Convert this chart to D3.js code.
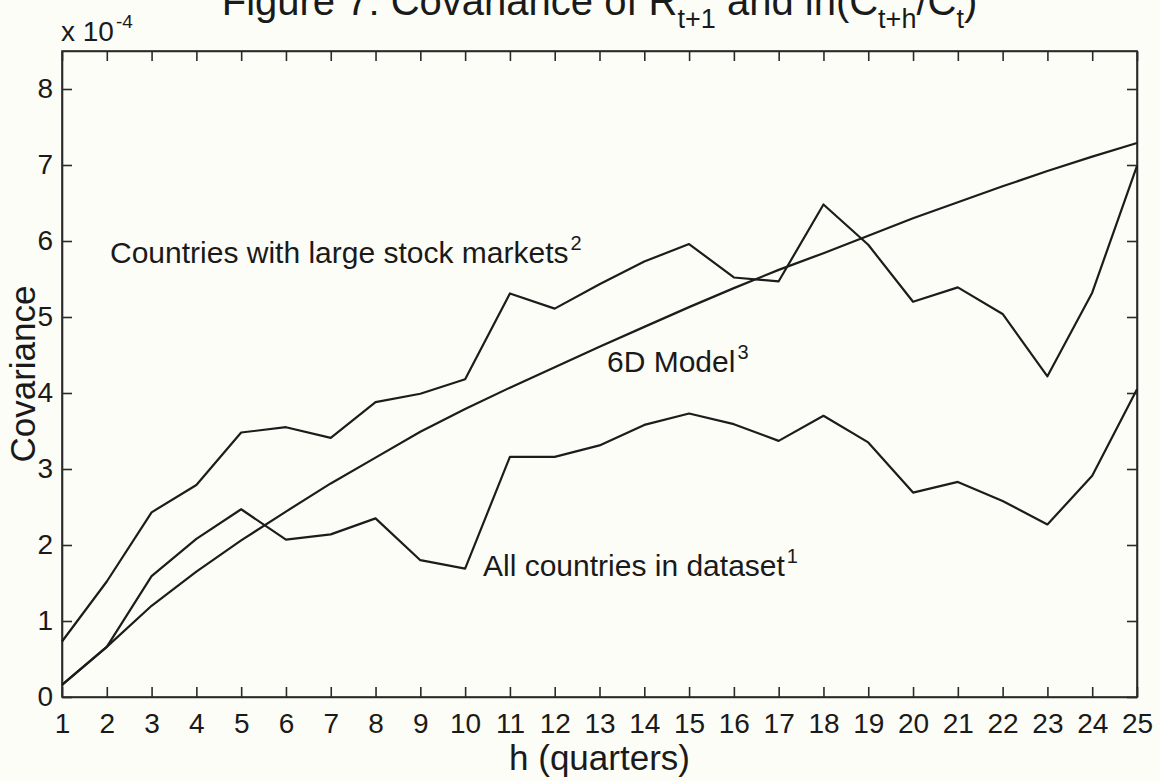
<!DOCTYPE html>
<html>
<head>
<meta charset="utf-8">
<script src="https://cdn.jsdelivr.net/npm/d3@7"></script>
<style>
  body { margin: 0; background: #fdfdf7; }
  text { font-family: "Liberation Sans", Arial, Helvetica, sans-serif; fill: #1a1a1a; }
  .axis path, .axis line { stroke: #2a2a2a; stroke-width: 1.6; }
  .axis text { font-size: 28px; }
</style>
</head>
<body>
<div id="chart"></div>
<script>
// Values (units of 1e-4)
const quarters = [1, 2, 3, 4, 5, 6, 7, 8, 9, 10, 11, 12, 13, 14, 15, 16, 17, 18, 19, 20, 21, 22, 23, 24, 25];
const largeMarkets = [0.73, 1.52, 2.43, 2.79, 3.48, 3.55, 3.41, 3.88, 3.99, 4.18, 5.31, 5.11, 5.43, 5.73, 5.96, 5.52, 5.47, 6.48, 5.95, 5.20, 5.39, 5.04, 4.22, 5.32, 6.99];
const allCountries = [0.16, 0.66, 1.59, 2.08, 2.47, 2.07, 2.14, 2.35, 1.80, 1.69, 3.16, 3.16, 3.31, 3.58, 3.73, 3.59, 3.37, 3.70, 3.35, 2.69, 2.83, 2.58, 2.27, 2.91, 4.05];
const model6D = [0.16, 0.66, 1.20, 1.65, 2.06, 2.44, 2.81, 3.15, 3.49, 3.79, 4.07, 4.34, 4.61, 4.87, 5.13, 5.38, 5.62, 5.84, 6.07, 6.30, 6.51, 6.72, 6.92, 7.11, 7.29];
const yTicks = [0, 1, 2, 3, 4, 5, 6, 7, 8];

// Setting dimensions and margins
const W = 1160, H = 781;
const margin = {top: 51, right: 23, bottom: 84, left: 62},
      width = W - margin.left - margin.right,
      height = H - margin.top - margin.bottom;

const svg = d3.select("#chart").append("svg")
    .attr("width", W)
    .attr("height", H);

svg.append("rect")
    .attr("width", W)
    .attr("height", H)
    .attr("fill", "#fdfdf7");

const g = svg.append("g")
    .attr("transform", `translate(${margin.left},${margin.top})`);

const x = d3.scaleLinear().domain([1, 25]).range([0, width]);
const y = d3.scaleLinear().domain([0, 8.5]).range([height, 0]);

// Axes with inward ticks on all four sides
g.append("g")
    .attr("class", "axis")
    .attr("transform", `translate(0,${height})`)
    .call(d3.axisBottom(x).tickValues(quarters).tickFormat(d3.format("d"))
        .tickSizeInner(-10).tickSizeOuter(0).tickPadding(16));

g.append("g")
    .attr("class", "axis")
    .call(d3.axisTop(x).tickValues(quarters).tickFormat("")
        .tickSizeInner(-10).tickSizeOuter(0));

g.append("g")
    .attr("class", "axis")
    .call(d3.axisLeft(y).tickValues(yTicks).tickFormat(d3.format("d"))
        .tickSizeInner(-10).tickSizeOuter(0).tickPadding(9));

g.append("g")
    .attr("class", "axis")
    .attr("transform", `translate(${width},0)`)
    .call(d3.axisRight(y).tickValues(yTicks).tickFormat("")
        .tickSizeInner(-10).tickSizeOuter(0));

// Box around the plot
g.append("rect")
    .attr("width", width)
    .attr("height", height)
    .attr("fill", "none")
    .attr("stroke", "#2a2a2a")
    .attr("stroke-width", 1.6);

// Lines
const line = d3.line()
    .x((d, i) => x(quarters[i]))
    .y(d => y(d));

[largeMarkets, allCountries, model6D].forEach(series => {
    g.append("path")
        .datum(series)
        .attr("fill", "none")
        .attr("stroke", "#1c1c1c")
        .attr("stroke-width", 2.2)
        .attr("stroke-linejoin", "round")
        .attr("d", line);
});

// Series labels with footnote superscripts
function label(px, py, txt, sup) {
    const t = svg.append("text")
        .attr("x", px)
        .attr("y", py)
        .style("font-size", "30px")
        .text(txt);
    t.append("tspan")
        .attr("dx", 2)
        .attr("dy", -13)
        .style("font-size", "20px")
        .text(sup);
}
label(110, 263, "Countries with large stock markets", "2");
label(607, 372, "6D Model", "3");
label(483, 576, "All countries in dataset", "1");

// Exponent label
const expo = svg.append("text")
    .attr("x", 61)
    .attr("y", 41)
    .style("font-size", "28px")
    .text("x 10");
expo.append("tspan")
    .attr("dx", 2)
    .attr("dy", -13)
    .style("font-size", "19px")
    .text("-4");

// Axis titles
svg.append("text")
    .attr("x", margin.left + width / 2)
    .attr("y", 770)
    .attr("text-anchor", "middle")
    .style("font-size", "35px")
    .text("h (quarters)");

svg.append("text")
    .attr("transform", `translate(35,${margin.top + height / 2}) rotate(-90)`)
    .attr("text-anchor", "middle")
    .style("font-size", "35px")
    .text("Covariance");

// Title (top is cut off by the page edge, as in the scan)
const title = svg.append("text")
    .attr("x", margin.left + width / 2)
    .attr("y", 15)
    .attr("text-anchor", "middle")
    .style("font-size", "40px");
const parts = [
    ["Figure 7: Covariance of R", 0, 40],
    ["t+1", 13, 27],
    [" and ln(C", -13, 40],
    ["t+h", 13, 27],
    ["/C", -13, 40],
    ["t", 13, 27],
    [")", -13, 40]
];
parts.forEach(p => {
    title.append("tspan")
        .attr("dy", p[1])
        .style("font-size", p[2] + "px")
        .text(p[0]);
});
</script>
</body>
</html>
